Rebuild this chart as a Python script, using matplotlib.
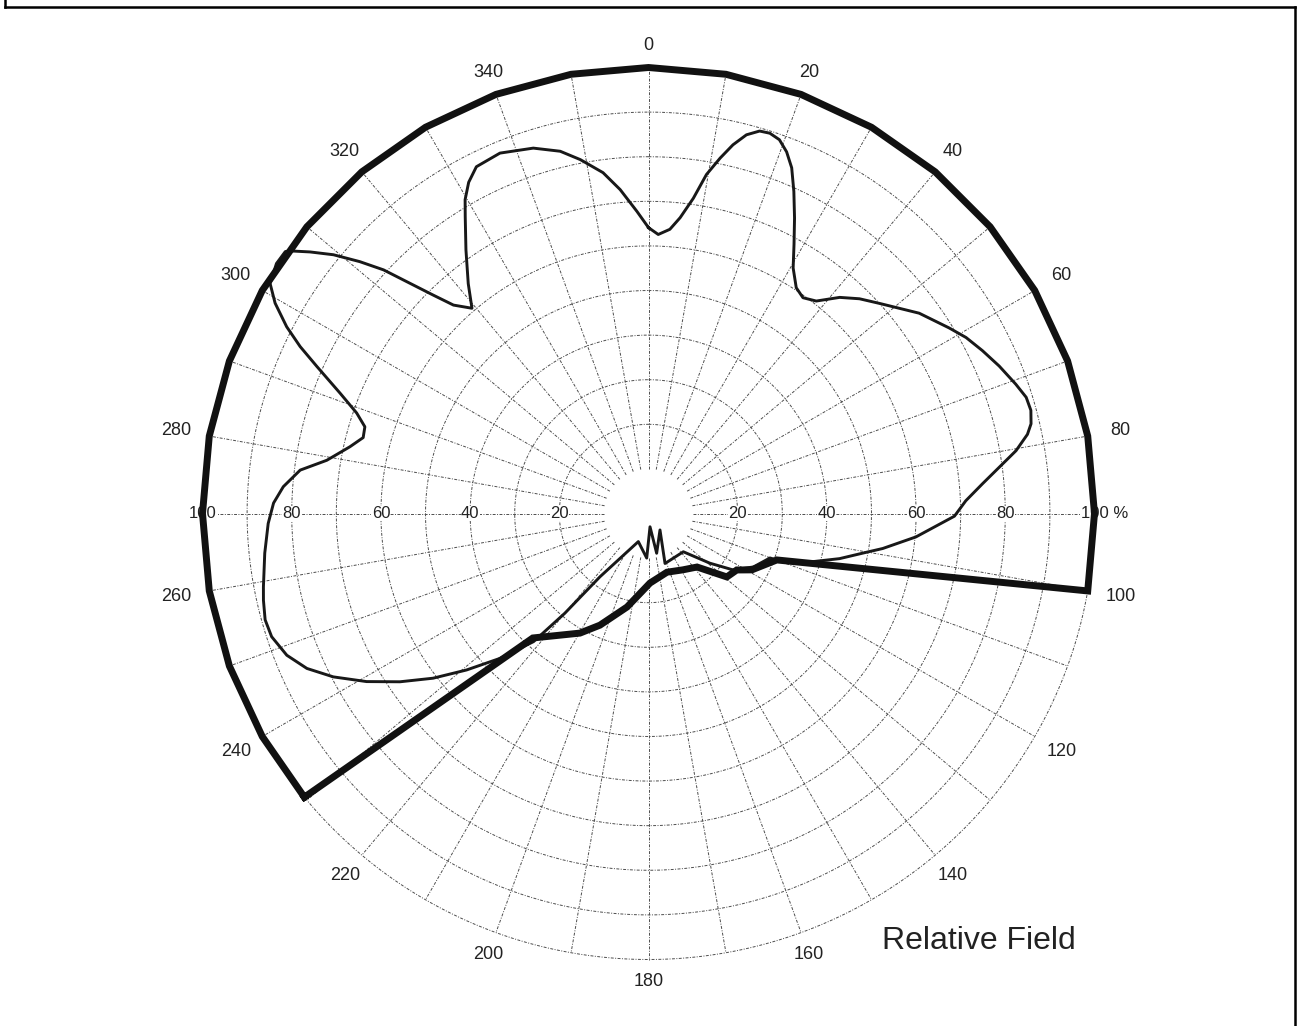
import numpy as np
import matplotlib
matplotlib.use('Agg')
from matplotlib import pyplot as plt
from matplotlib.lines import Line2D

plt.rcParams['font.family'] = ['Liberation Sans', 'DejaVu Sans']

#--- DATA ---------------------------------------------------------------------+

# relative field pattern (thin line): bearing in degrees, field in percent
pattern_deg = [0.0, 2.0, 4.3, 6.1, 8.1, 9.7, 11.4, 12.9, 14.5, 16.2, 17.7, 19.3,
               20.9, 22.5, 24.3, 26.3, 28.4, 30.5, 33.2, 35.6, 38.3, 41.5, 44.5,
               47.7, 53.5, 58.3, 61.0, 64.0, 67.2, 70.6, 72.9, 74.9, 76.8, 78.2,
               80.3, 82.5, 84.9, 87.7, 90.5, 95.0, 98.5, 100.1, 103.3, 106.7, 109.8,
               110.1, 117.0, 123.7, 129.0, 137.7, 161.7, 145.1, 168.4, 173.5,
               182.3, 199.9, 217.5, 220.0, 221.9, 225.7, 229.3, 232.6, 235.9,
               239.2, 242.6, 245.6, 248.6, 251.9, 254.5, 257.3, 259.2, 264.1,
               268.5, 271.6, 274.2, 277.1, 279.4, 282.6, 284.9, 287.0, 289.0,
               291.3, 293.9, 295.6, 297.3, 299.4, 301.3, 303.9, 305.8, 306.2,
               307.7, 309.4, 311.1, 312.6, 313.8, 315.4, 316.9, 319.3, 321.9,
               325.3, 328.3, 329.7, 331.5, 333.6, 337.6, 342.5, 346.3, 349.1,
               352.4, 355.0, 357.8, 0.0]
pattern_pct = [64.1, 62.6, 63.9, 66.7, 71.4, 77.1, 81.3, 84.8, 87.7, 89.3, 89.5, 88.8,
               86.8, 83.9, 79.2, 73.9, 68.6, 63.9, 60.5, 59.5, 60.7, 64.7, 67.5,
               70.0, 75.5, 79.2, 81.4, 83.3, 85.3, 87.3, 88.6, 88.8, 88.1, 86.8,
               83.6, 79.3, 75.2, 71.2, 68.6, 60.2, 53.1, 49.6, 44.0, 37.8, 32.1,
               29.0, 26.4, 22.8, 17.7, 11.6, 11.8, 4.5, 9.1, 3.0,
               10.0, 6.7, 17.9, 29.2, 38.6, 46.5, 53.8, 60.8, 67.3,
               73.6, 79.6, 84.1, 87.1, 88.9, 89.2, 88.5, 87.9, 86.5,
               85.3, 84.1, 82.1, 78.7, 73.1, 68.6, 66.2, 66.5, 69.2,
               74.2, 81.3, 86.6, 91.3, 96.1, 99.3, 100.5, 100.4, 99.7,
               95.9, 91.4, 85.9, 80.7, 75.1, 68.8, 64.0, 60.7, 65.5,
               71.9, 78.2, 81.5, 84.5, 86.8, 87.4, 85.9, 83.6, 80.8,
               77.1, 72.9, 67.8, 64.1]

# envelope (thick line)
envelope_deg = [230.5, 240, 250, 260, 270, 280, 290, 300, 310, 320, 330, 340, 350,
                0, 10, 20, 30, 40, 50, 60, 70, 80, 90, 100, 109.9, 118.6, 122.6,
                129.0, 137.8, 148.6, 162.5, 178.8, 192.9, 203.5, 209.8, 222.9, 230.5]
envelope_pct = [100, 100, 100, 100, 100, 100, 100, 100, 100, 100, 100, 100, 100,
                100, 100, 100, 100, 100, 100, 100, 100, 100, 100, 100, 30.6, 26.4, 23.5,
                22.6, 16.2, 14.8, 13.8, 15.6, 21.5, 27.3, 30.9, 38.1, 100]

ring_values = [20, 30, 40, 50, 60, 70, 80, 90, 100]
spoke_deg = list(range(0, 360, 10))
bearing_labels = list(range(0, 360, 20))
radial_labels = [20, 40, 60, 80, 100]

#--- PLOT ---------------------------------------------------------------------+

W, H = 1297, 1026
cx, cy, rad = 648.5, 513.5, 446.0

fig = plt.figure(figsize=(W / 100, H / 100), dpi=100)
ax = fig.add_axes([(cx - rad) / W, 1 - (cy + rad) / H, 2 * rad / W, 2 * rad / H],
                  projection='polar')
ax.set_theta_zero_location('N')
ax.set_theta_direction(-1)
ax.set_ylim(0, 100)
ax.grid(False)
ax.set_xticks([])
ax.set_yticks([])
ax.spines['polar'].set_visible(False)
ax.patch.set_alpha(0)

grid_kw = dict(color='0.3', lw=0.7, ls=(0, (3, 1.5, 1, 1.5)), zorder=1, clip_on=False)
full = np.linspace(0, 2 * np.pi, 361)
for r in ring_values:
    ax.plot(full, np.full_like(full, r), **grid_kw)
for d in spoke_deg:
    ax.plot([np.radians(d)] * 2, [10, 100], **grid_kw)

# bearing labels sit a little further out at the sides
for d in bearing_labels:
    rl = 104.9 + 2.6 * np.sin(np.radians(d)) ** 2
    ax.text(np.radians(d), rl, str(d), ha='center', va='center',
            fontsize=13, color='#222', clip_on=False)

lab_kw = dict(fontsize=12, color='#222', zorder=2,
              bbox=dict(facecolor='white', edgecolor='none', pad=0.3))
for r in radial_labels:
    ax.text(np.radians(270), r, str(r), ha='center', va='center', **lab_kw)
    if r == 100:
        ax.annotate('100 %', (np.radians(90), r), xytext=(-13.5, 0),
                    textcoords='offset pixels', ha='left', va='center', **lab_kw)
    else:
        ax.text(np.radians(90), r, str(r), ha='center', va='center', **lab_kw)

th = np.unwrap(np.radians(pattern_deg))
ax.plot(th, pattern_pct, color='#181818', lw=2.1, zorder=3, clip_on=False,
        solid_joinstyle='round')

te = np.unwrap(np.radians(envelope_deg))
ax.plot(te, envelope_pct, color='#111', lw=5.0, zorder=4, clip_on=False,
        solid_joinstyle='miter')

fig.text(882 / W, 1 - 941 / H, 'Relative Field', fontsize=23,
         ha='left', va='center', color='#222')

# frame round the picture
for xs, ys in (([5.3, 5.3], [0, 6.7]), ([5.3, 1295], [6.7, 6.7]), ([1295, 1295], [6.7, 1026])):
    fig.add_artist(Line2D([x / W for x in xs], [1 - y / H for y in ys],
                          color='black', lw=1.8, transform=fig.transFigure))

plt.savefig('out.png', dpi=100)
